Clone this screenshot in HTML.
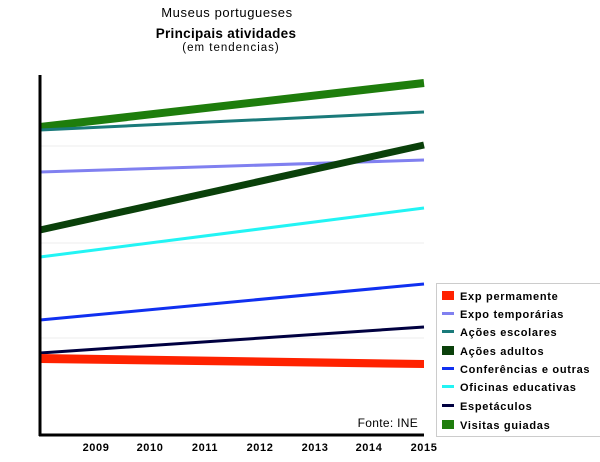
<!DOCTYPE html>
<html><head><meta charset="utf-8"><style>
body{margin:0;background:#fff;width:600px;height:457px;overflow:hidden;font-family:"Liberation Sans",sans-serif}
</style></head><body>
<svg width="600" height="457" xmlns="http://www.w3.org/2000/svg" font-family="Liberation Sans, sans-serif">
<text x="227" y="17" font-size="13" letter-spacing="0.6" text-anchor="middle" fill="#000">Museus portugueses</text>
<text x="226" y="38" font-size="13.5" letter-spacing="0.3" font-weight="bold" text-anchor="middle">Principais atividades</text>
<text x="231" y="51" font-size="11.5" letter-spacing="1" text-anchor="middle">(em tendencias)</text>
<g stroke="#eee" stroke-width="1">
<line x1="40" y1="146" x2="424" y2="146"/><line x1="40" y1="243" x2="424" y2="243"/><line x1="40" y1="338" x2="424" y2="338"/>
</g>
<line x1="40" y1="127" x2="424" y2="83" stroke="#1e7d0c" stroke-width="8"/>
<line x1="40" y1="130" x2="424" y2="112" stroke="#1a7a7a" stroke-width="3"/>
<line x1="40" y1="172" x2="424" y2="160" stroke="#8080f0" stroke-width="3"/>
<line x1="40" y1="230" x2="424" y2="145" stroke="#0a400a" stroke-width="7"/>
<line x1="40" y1="257" x2="424" y2="208" stroke="#22f4f4" stroke-width="3"/>
<line x1="40" y1="320" x2="424" y2="284" stroke="#1030f0" stroke-width="3"/>
<line x1="40" y1="353" x2="424" y2="327" stroke="#000040" stroke-width="3"/>
<polygon points="40,354 424,360 424,368 40,363" fill="#ff2200"/>
<line x1="40" y1="75" x2="40" y2="436" stroke="#000" stroke-width="3"/>
<line x1="39" y1="435" x2="424" y2="435" stroke="#000" stroke-width="3"/>
<text x="418" y="427" font-size="12" letter-spacing="0.3" text-anchor="end">Fonte: INE</text>
<g font-size="11" font-weight="bold" letter-spacing="0.6" text-anchor="middle">
<text x="96" y="451">2009</text><text x="150" y="451">2010</text><text x="205" y="451">2011</text><text x="260" y="451">2012</text><text x="315" y="451">2013</text><text x="369" y="451">2014</text><text x="424" y="451">2015</text>
</g>
<rect x="436.5" y="283.5" width="170" height="153" fill="#fff" stroke="#ccc"/>
<rect x="442" y="291" width="12" height="9" fill="#ff2200"/>
<rect x="442" y="312" width="12" height="3" fill="#8080f0"/>
<rect x="442" y="330" width="12" height="3" fill="#1a7a7a"/>
<rect x="442" y="346" width="12" height="9" fill="#0a400a"/>
<rect x="442" y="367" width="12" height="3" fill="#1030f0"/>
<rect x="442" y="385" width="12" height="3" fill="#22f4f4"/>
<rect x="442" y="404" width="12" height="3" fill="#000040"/>
<rect x="442" y="420" width="12" height="9" fill="#1e7d0c"/>
<g font-size="11" font-weight="bold" letter-spacing="0.7">
<text x="460" y="300">Exp permamente</text>
<text x="460" y="318">Expo temporárias</text>
<text x="460" y="336">Ações escolares</text>
<text x="460" y="355">Ações adultos</text>
<text x="460" y="373">Conferências e outras</text>
<text x="460" y="391">Oficinas educativas</text>
<text x="460" y="410">Espetáculos</text>
<text x="460" y="429">Visitas guiadas</text>
</g>
</svg>
</body></html>
